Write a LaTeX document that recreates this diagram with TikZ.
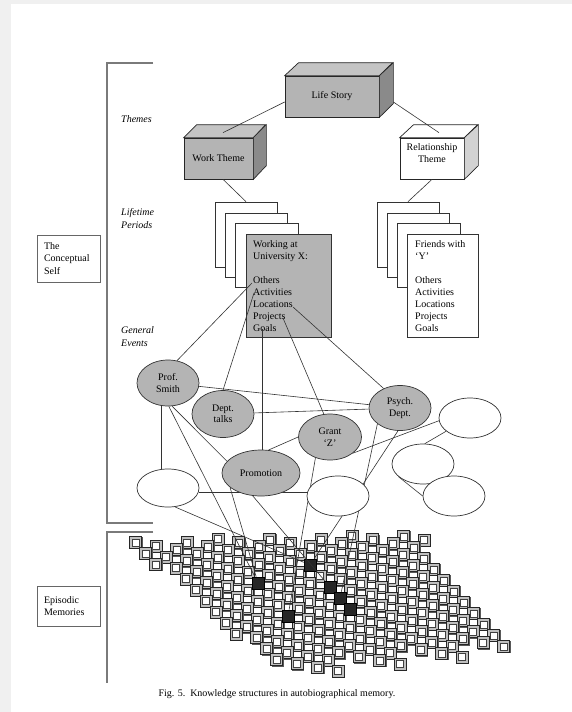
\documentclass[tikz,border=0pt]{standalone}
\usepackage{fontspec}
\setmainfont{Liberation Serif}
\usetikzlibrary{shapes.geometric,calc}
\pgfdeclarelayer{bgl}
\pgfdeclarelayer{fgl}
\pgfsetlayers{bgl,main,fgl}
\definecolor{boxgray}{HTML}{B4B4B4}
\definecolor{topgray}{HTML}{C4C4C4}
\definecolor{sidegray}{HTML}{8A8A8A}
\definecolor{lsidegray}{HTML}{D2D2D2}
\definecolor{pagegray}{HTML}{F0F0F0}
\definecolor{brkgray}{HTML}{7A7A7A}
\begin{document}
\begin{tikzpicture}[x=1pt,y=-1pt, font=\fontsize{10}{12}\selectfont,
  face/.style={draw=black!85, line width=0.7pt},
  conn/.style={draw=black!80, line width=0.6pt},
  brk/.style={draw=brkgray, line width=1.4pt},
  lbox/.style={draw=black!60, line width=0.8pt, align=left, inner xsep=7pt, text width=49pt, minimum width=63pt, font=\fontsize{10}{12.5}\selectfont},
  lvl/.style={font=\fontsize{10}{13}\selectfont\itshape, align=left, anchor=west, inner sep=0},
  card/.style={draw=black!80, line width=0.7pt, fill=white, inner sep=0, rectangle},
  ctext/.style={anchor=north west, align=left, inner sep=0},
  evg/.style={ellipse, draw=black!80, line width=0.7pt, fill=boxgray, inner sep=0, align=center, font=\fontsize{10}{11.5}\selectfont},
  evw/.style={ellipse, draw=black!80, line width=0.7pt, fill=white, inner sep=0},
  blk/.style={rectangle, fill=black!85, draw=black, line width=0.6pt, minimum size=12pt, inner sep=0},
  sqs/.style={fill=black!65},
  sqo/.style={fill=gray!50, draw=black!85, line width=0.6pt},
  sqi/.style={fill=white, draw=black!75, line width=0.4pt}]
\useasboundingbox (0,0) rectangle (572,712);

% ---------- background, grid of episodic memories ----------
\begin{pgfonlayer}{bgl}
\fill[pagegray] (0,0) rectangle (572,712);
\fill[white] (11,4) rectangle (572,712);
\foreach \n in {-2,...,25}{
  \foreach \m in {19,18,...,-3}{
    \pgfmathsetmacro\px{146+10.5*(\m)+10*(\n)}
    \pgfmathsetmacro\py{535-7.25*(\m)+11*(\n)}
    \pgfmathsetmacro\dd{mod(abs(\m)*3,4)*6}
    \pgfmathtruncatemacro\ok{and(and((\py-544)+0.0248*(\px-140) > -4, (\py-537)-1.2917*(\px-422) > 0), and((661-\py)-0.1168*(\px-518) > \dd, (686-\py)+0.8659*(\px-304) > -7))}
    \ifnum\ok=1
      \fill[sqs] (\px-4.8,\py-4.8) rectangle ++(12,12);
      \draw[sqo] (\px-6,\py-6) rectangle ++(12,12);
      \draw[sqi] (\px-3.5,\py-3.5) rectangle ++(7,7);
    \fi
  }
}
\node[blk] (b1) at (258,583) {};
\node[blk] (b2) at (288,616) {};
\node[blk] (b3) at (310,565) {};
\node[blk] (b4) at (330,587) {};
\node[blk] (b5) at (340,598) {};
\node[blk] (b6) at (350,609) {};
\end{pgfonlayer}

% ---------- brackets and level labels ----------
\draw[brk] (153,63) -- (107,63) -- (107,523) -- (153,523);
\draw[brk] (153,532) -- (107,532) -- (107,683);
\node[lbox, minimum height=47pt] (cself) at (68.5,258.5) {The\\Conceptual\\Self};
\node[lbox, minimum height=40pt] (epis) at (68.5,606) {Episodic\\Memories};
\node[lvl] (lthemes) at (121,119) {Themes};
\node[lvl] (lperiods) at (121,218.5) {Lifetime\\Periods};
\node[lvl] (levents) at (121,336.5) {General\\Events};

% ---------- themes ----------
\node[face, fill=boxgray, minimum width=94pt, minimum height=41pt, inner sep=0] (life) at (332,96.5) {Life Story};
\draw[face, fill=topgray] (life.north west) -- ++(14,-13) -- ++(94,0) -- (life.north east) -- cycle;
\draw[face, fill=sidegray] (life.north east) -- ++(14,-13) -- ++(0,41) -- (life.south east) -- cycle;

\node[face, fill=boxgray, minimum width=69pt, minimum height=41pt, inner sep=0] (wt) at (218.5,158.5) {Work Theme};
\draw[face, fill=topgray] (wt.north west) -- ++(13,-13) -- ++(69,0) -- (wt.north east) -- cycle;
\draw[face, fill=sidegray] (wt.north east) -- ++(13,-13) -- ++(0,41) -- (wt.south east) -- cycle;

\node[face, fill=white, minimum width=64pt, minimum height=41pt, inner sep=0] (rt) at (432,158.5) {};
\draw[face, fill=white] (rt.north west) -- ++(14,-13) -- ++(64,0) -- (rt.north east) -- cycle;
\draw[face, fill=lsidegray] (rt.north east) -- ++(14,-13) -- ++(0,41) -- (rt.south east) -- cycle;
\node[align=center, inner sep=0] (rtx) at (432,153) {Relationship\\Theme};

% ---------- lifetime periods ----------
\node[card, minimum width=62pt, minimum height=65pt] (c1) at (246,234.5) {};
\node[card, minimum width=62pt, minimum height=64pt] (c2) at (256,245) {};
\node[card, minimum width=63pt, minimum height=64pt] (c3) at (266.5,255) {};
\node[card, fill=boxgray, minimum width=85pt, minimum height=103pt] (wcard) at (288.5,285.5) {};
\node[ctext] (wtext) at (253,240) {Working at\\University X:\\[12pt]Others\\Activities\\Locations\\Projects\\Goals};

\node[card, minimum width=62pt, minimum height=65pt] (r1) at (408,234.5) {};
\node[card, minimum width=62pt, minimum height=64pt] (r2) at (418,245) {};
\node[card, minimum width=63pt, minimum height=64pt] (r3) at (428.5,255) {};
\node[card, minimum width=71pt, minimum height=103pt] (rcard) at (442.5,285.5) {};
\node[ctext] (rtext) at (415,240) {Friends with\\‘Y’\\[12pt]Others\\Activities\\Locations\\Projects\\Goals};

\coordinate (kOth) at (252,283);
\coordinate (kAct) at (254,293);
\coordinate (kLoc) at (293,307);
\coordinate (kProj) at (283,318);
\coordinate (kGoal) at (262,329);

% ---------- general events ----------
\begin{pgfonlayer}{fgl}
\node[evg, minimum width=62pt, minimum height=46pt] (smith) at (168,383) {Prof.\\Smith};
\node[evg, minimum width=62pt, minimum height=47pt] (dept) at (223,414) {Dept.\\talks};
\node[evg, minimum width=78pt, minimum height=46pt] (promo) at (261,473) {Promotion};
\node[evg, minimum width=63pt, minimum height=46pt] (grant) at (330,437) {Grant\\‘Z’};
\node[evg, minimum width=62pt, minimum height=45pt] (psych) at (400,408) {Psych.\\Dept.};
\node[evw, minimum width=62pt, minimum height=38pt] (wA) at (168,488) {};
\node[evw, minimum width=62pt, minimum height=40pt] (wB) at (338,496) {};
\node[evw, minimum width=62pt, minimum height=40pt] (wC) at (470,418) {};
\node[evw, minimum width=62pt, minimum height=40pt] (wD) at (423,464) {};
\node[evw, minimum width=62pt, minimum height=40pt] (wE) at (454,496) {};
\end{pgfonlayer}

% ---------- connectors ----------
\draw[conn] ([yshift=-5.5pt]life.west) -- ($(wt.north)+(4.5,-5)$);
\draw[conn] ($(life.east)+(14,5.5)$) -- ($(rt.north)+(7,-5)$);
\draw[conn] ([xshift=4.5pt]wt.south) -- (c1.north);
\draw[conn] (rt.south) -- (r1.north);

\draw[conn] (kOth) -- (smith.68);
\draw[conn] (kAct) -- (dept.north);
\draw[conn] (kGoal) -- (kGoal |- promo.north);
\draw[conn] (kProj) -- (grant.105);
\draw[conn] (kLoc) -- (psych.130);

\draw[conn] (smith) -- (psych);
\draw[conn] (dept) -- (psych);
\draw[conn] (promo.72) -- (grant.180);
\draw[conn] (grant.-35) -- (wC.185);
\draw[conn] (wD.85) -- (wC.209);
\draw[conn] (wD.207) -- (wE.180);
\draw[conn] (smith.253) -- (smith.253 |- wA.north);
\draw[conn] ([yshift=-4pt]wA.east) -- ([yshift=4pt]wB.west);
\draw[conn] (smith.-80) -- (promo.161);

\draw[conn] (smith.-88) -- (b1);
\draw[conn] (wA.-70) -- (b3);
\draw[conn] (promo.205) -- (b1);
\draw[conn] (promo.250) -- (b4);
\draw[conn] (grant.235) -- (b2);
\draw[conn] (psych.265) -- (b3);
\draw[conn] (psych.215) -- (b5);

% ---------- caption ----------
\node (cap) at (277,694) {Fig. 5.\enspace Knowledge structures in autobiographical memory.};
\end{tikzpicture}
\end{document}
